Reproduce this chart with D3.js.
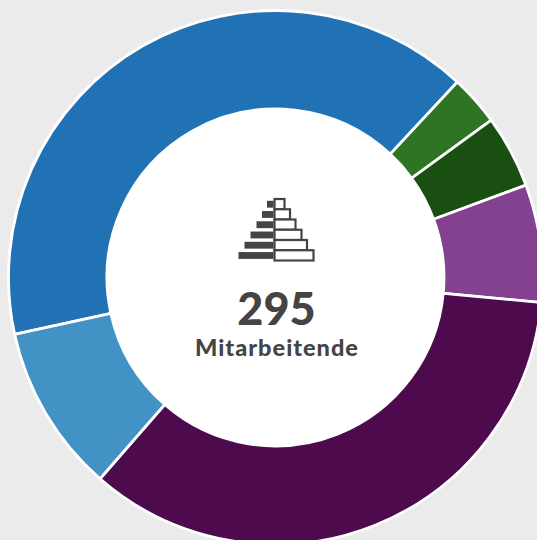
<!DOCTYPE html>
<html>
<head>
<meta charset="utf-8">
<script src="https://cdn.jsdelivr.net/npm/d3@7"></script>
<style>
  html, body { margin: 0; padding: 0; background: #ebebeb; overflow: hidden; }
  svg { display: block; }
  text { font-family: "Lato", sans-serif; font-weight: 900; fill: #444; text-anchor: middle; }
</style>
</head>
<body>
<svg id="chart"></svg>
<script>
var width = 537, height = 540;
var cx = 275.5, cy = 277.5, outerRadius = 267, innerRadius = 168.5;

var staff = [119, 9, 13, 21, 103, 30];
var colors = ["#2171b5", "#2e7523", "#195011", "#84418f", "#4d0a4d", "#4292c6"];
var total = "295";
var label = "Mitarbeitende";

// icon rows, top to bottom
var iconLeft = [6.5, 11.5, 17, 23, 29, 35];
var iconRight = [10, 15.5, 21, 27, 32.5, 39];

var svg = d3.select("#chart").attr("width", width).attr("height", height);
var g = svg.append("g").attr("transform", "translate(" + cx + "," + cy + ")");

var startAngle = -102.3 * Math.PI / 180;
var pie = d3.pie().sort(null).value(d => d)
    .startAngle(startAngle)
    .endAngle(startAngle + 2 * Math.PI);
var arc = d3.arc().innerRadius(innerRadius).outerRadius(outerRadius);

g.selectAll("path")
    .data(pie(staff))
    .join("path")
    .attr("d", arc)
    .attr("fill", (d, i) => colors[i])
    .attr("stroke", "white")
    .attr("stroke-width", 2.8);

// white middle
g.append("circle").attr("r", innerRadius).attr("fill", "white");

// pyramid icon
var iconY = d3.scaleBand().domain(d3.range(iconLeft.length)).range([199, 260.5]);
var icon = svg.append("g").attr("transform", "translate(273.5,0)");
icon.selectAll(".left")
    .data(iconLeft)
    .join("rect")
    .attr("class", "left")
    .attr("x", d => -d)
    .attr("y", (d, i) => iconY(i) + 1.8)
    .attr("width", d => d)
    .attr("height", iconY.bandwidth() - 3.4)
    .attr("fill", "#444");
icon.selectAll(".right")
    .data(iconRight)
    .join("rect")
    .attr("class", "right")
    .attr("x", 1)
    .attr("y", (d, i) => iconY(i))
    .attr("width", d => d)
    .attr("height", iconY.bandwidth())
    .attr("fill", "white")
    .attr("stroke", "#444")
    .attr("stroke-width", 2.2);

svg.append("text").attr("x", 276.5).attr("y", 325).style("font-size", "45px").text(total);
svg.append("text").attr("x", 277).attr("y", 356).style("font-size", "23.5px").style("letter-spacing", "1px").text(label);
</script>
</body>
</html>
